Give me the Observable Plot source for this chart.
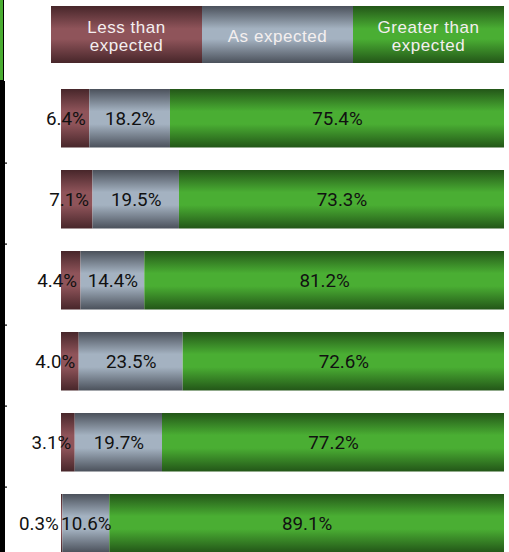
<!DOCTYPE html>
<html>
<head>
<meta charset="utf-8">
<script src="https://cdn.jsdelivr.net/npm/d3@7"></script>
<script src="https://cdn.jsdelivr.net/npm/@observablehq/plot@0.6"></script>
<style>
  html, body { margin: 0; padding: 0; background: #fff; }
  #page { position: relative; width: 509px; height: 552px; overflow: hidden; }
  #top { position: relative; width: 509px; height: 81px; }
  #stripe { position: absolute; left: 0; top: 0; width: 3px; height: 80px; background: #4aad32;
            border-right: 1.5px solid #000; border-bottom: 1.5px solid #000; }
  #vline { position: absolute; left: 0; top: 81px; width: 4.5px; height: 471px; background: #000; z-index: 2; }
  #legend { position: absolute; left: 51px; top: 6px; width: 453px; height: 57px; display: flex; }
  #legend .item { flex: 1; display: flex; align-items: center; justify-content: center; text-align: center;
                  box-sizing: border-box; padding-top: 5px;
                  color: #f4efef; font-family: "Liberation Sans", Arial, sans-serif; font-size: 17px;
                  letter-spacing: 0.55px; line-height: 18.5px; white-space: pre-line; }
  #chart svg { display: block; }
</style>
</head>
<body>
<div id="page">
  <div id="top"><div id="stripe"></div><div id="legend"></div></div>
  <div id="vline"></div>
  <div id="chart"></div>
</div>
<script>
// ---- data ----
const rows = ["Row 1", "Row 2", "Row 3", "Row 4", "Row 5", "Row 6"];
const seriesKeys = ["less", "as", "greater"];
const seriesLabels = ["Less than\nexpected", "As expected", "Greater than\nexpected"];
const lessValues = [6.4, 7.1, 4.4, 4.0, 3.1, 0.3];
const asValues = [18.2, 19.5, 14.4, 23.5, 19.7, 10.6];
const greaterValues = [75.4, 73.3, 81.2, 72.6, 77.2, 89.1];

// ---- styles ----
const darkColors = ["#47262a", "#4b515b", "#235618"];
const lightColors = ["#8f545a", "#a4b2c1", "#4aae33"];
const gradIds = ["gLess", "gAs", "gGreater"];

const valuesBySeries = [lessValues, asValues, greaterValues];
const data = rows.flatMap((row, i) =>
  seriesKeys.map((cat, j) => ({row, cat, value: valuesBySeries[j][i]}))
);
const fmt = v => d3.format(".1f")(v) + "%";

// ---- legend (HTML above the svg) ----
const legend = document.getElementById("legend");
seriesKeys.forEach((k, j) => {
  const el = document.createElement("div");
  el.className = "item";
  el.textContent = seriesLabels[j];
  el.style.background = `linear-gradient(to bottom, ${darkColors[j]} 0%, ${lightColors[j]} 40%, ${lightColors[j]} 58%, ${darkColors[j]} 100%)`;
  legend.appendChild(el);
});

// gradient defs as a custom mark
const defsMark = () => {
  const g = d3.create("svg:g");
  const defs = g.append("defs");
  gradIds.forEach((id, j) => {
    const lg = defs.append("linearGradient").attr("id", id).attr("x1", 0).attr("y1", 0).attr("x2", 0).attr("y2", 1);
    [[0, darkColors[j]], [0.38, lightColors[j]], [0.6, lightColors[j]], [1, darkColors[j]]].forEach(([o, c]) =>
      lg.append("stop").attr("offset", o).attr("stop-color", c));
  });
  return g.node();
};

// row-boundary ticks on the left border
const leftTicks = (index, scales) => {
  const g = d3.create("svg:g");
  rows.slice(1).forEach(r => {
    g.append("rect").attr("x", 0).attr("y", scales.y(r) - 0.5).attr("width", 7).attr("height", 1.2).attr("fill", "#000");
  });
  return g.node();
};

const stackOpts = {x: "value", y: "row", z: "cat", order: seriesKeys, offset: "normalize"};

const chart = Plot.plot({
  width: 509,
  height: 471,
  marginLeft: 61,
  marginRight: 5,
  marginTop: 0,
  marginBottom: -16.4,
  x: {domain: [0, 1], axis: null},
  y: {domain: rows, padding: 0, axis: null},
  color: {domain: seriesKeys, range: gradIds.map(id => `url(#${id})`)},
  style: {fontFamily: "Roboto, sans-serif", background: "transparent"},
  marks: [
    defsMark,
    Plot.barX(data, Plot.stackX({...stackOpts, fill: "cat", insetTop: 7, insetBottom: 15.5})),
    Plot.text(data, Plot.stackX2({...stackOpts,
      text: d => d.cat === "less" ? fmt(d.value) : null,
      textAnchor: "end", dx: -4, dy: -4.2, fontSize: 18.8, fill: "#111"})),
    Plot.text(data, Plot.stackX({...stackOpts,
      text: d => d.cat !== "less" ? fmt(d.value) : null,
      dy: -4.2, fontSize: 18.8, fill: "#111"})),
    leftTicks
  ]
});
document.getElementById("chart").appendChild(chart);
</script>
</body>
</html>
